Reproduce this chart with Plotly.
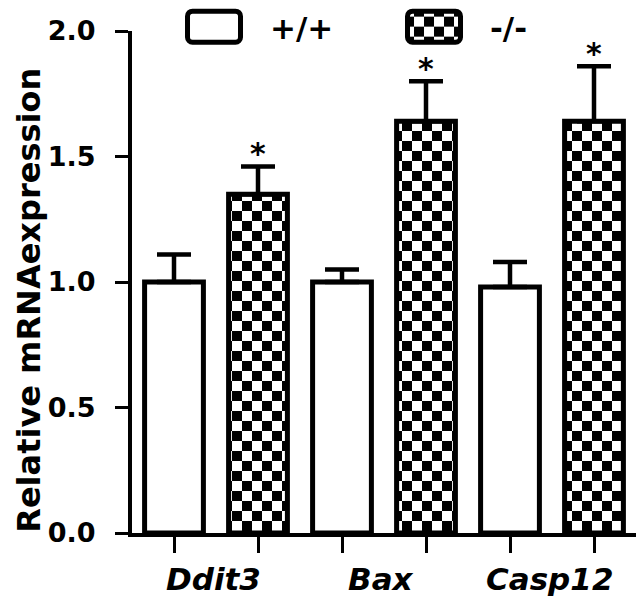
import plotly.graph_objects as go

# ---- data ----
genes = ["Ddit3", "Bax", "Casp12"]
groups = ["+/+", "-/-"]
wt_values = [1.00, 1.00, 0.98]
wt_errors = [0.11, 0.05, 0.10]
ko_values = [1.35, 1.64, 1.64]
ko_errors = [0.11, 0.16, 0.22]
y_ticks = [0.0, 0.5, 1.0, 1.5, 2.0]

FONT = "DejaVu Sans"
n = len(genes)
wt_x = [2 * i for i in range(n)]
ko_x = [2 * i + 1 for i in range(n)]

fig = go.Figure()
fig.add_trace(go.Bar(
    x=wt_x, y=wt_values, name=groups[0], width=0.70,
    marker=dict(color="white", line=dict(color="black", width=5)),
    error_y=dict(type="data", symmetric=False, array=wt_errors,
                 arrayminus=[0] * n, color="black", thickness=4.5, width=17),
))
fig.add_trace(go.Bar(
    x=ko_x, y=ko_values, name=groups[1], width=0.70,
    marker=dict(color="white", line=dict(color="black", width=5),
                pattern=dict(shape="+", fgcolor="black", bgcolor="white",
                             size=20, solidity=0.5)),
    error_y=dict(type="data", symmetric=False, array=ko_errors,
                 arrayminus=[0] * n, color="black", thickness=4.5, width=17),
))

annotations = []
for xi, v, e in zip(ko_x, ko_values, ko_errors):
    annotations.append(dict(x=xi, y=v + e, xref="x", yref="y", text="*",
                            showarrow=False, yanchor="middle", yshift=13,
                            font=dict(family=FONT, size=30, color="black", weight="bold")))
for i, g in enumerate(genes):
    annotations.append(dict(x=2 * i + 0.5, y=0, xref="x", yref="y", text=g,
                            showarrow=False, yanchor="top", yshift=-26, xshift=-3,
                            font=dict(family=FONT, size=31, color="black",
                                      weight="bold", style="italic")))
annotations.append(dict(x=-0.205, y=0.464, xref="paper", yref="paper",
                        text="Relative mRNAexpression", textangle=-90,
                        showarrow=False, xanchor="center", yanchor="middle",
                        font=dict(family=FONT, size=32, color="black", weight="bold")))

fig.update_layout(
    width=636, height=606,
    margin=dict(l=132, r=0, t=31, b=73),
    plot_bgcolor="white", paper_bgcolor="white",
    barmode="overlay",
    showlegend=True,
    legend=dict(orientation="h", x=0.0516, xanchor="left", y=1.008, yanchor="middle",
                itemwidth=102, entrywidth=103, entrywidthmode="pixels",
                font=dict(family=FONT, size=31, color="black", weight="bold"),
                bgcolor="rgba(0,0,0,0)"),
    annotations=annotations,
    xaxis=dict(range=[-0.5, 5.5], tickvals=list(range(2 * n)),
               ticktext=[""] * (2 * n), showticklabels=False,
               ticks="outside", ticklen=16, tickwidth=3, tickcolor="black",
               showline=True, linewidth=4, linecolor="black",
               showgrid=False, zeroline=False),
    yaxis=dict(range=[0, 2.0], tickvals=y_ticks, tickformat=".1f",
               ticks="outside", ticklen=13, tickwidth=3, tickcolor="black",
               ticklabelstandoff=14,
               showline=True, linewidth=4, linecolor="black",
               showgrid=False, zeroline=False,
               tickfont=dict(family=FONT, size=27, color="black", weight="bold")),
)

post_js = r"""
(function(){
var gd = document.getElementById('{plot_id}');
var NS = 'http://www.w3.org/2000/svg';
var S = 10;
function fix(){
  gd.querySelectorAll('pattern').forEach(function(p){
    if (p.getAttribute('data-checker')) return;
    p.setAttribute('data-checker', '1');
    p.setAttribute('width', 2*S); p.setAttribute('height', 2*S);
    p.setAttribute('patternUnits', 'userSpaceOnUse');
    p.removeAttribute('patternTransform');
    while (p.firstChild) p.removeChild(p.firstChild);
    function r(x, y, w, c){
      var e = document.createElementNS(NS, 'rect');
      e.setAttribute('x', x); e.setAttribute('y', y);
      e.setAttribute('width', w); e.setAttribute('height', w);
      e.setAttribute('fill', c); p.appendChild(e);
    }
    r(0, 0, 2*S, '#ffffff'); r(0, 0, S, '#000000'); r(S, S, S, '#000000');
  });
  gd.querySelectorAll('.legend .legendpoints path').forEach(function(pth){
    pth.setAttribute('d', 'M-21.5,-15.5H21.5A5,5 0 0 1 26.5,-10.5V10.5A5,5 0 0 1 21.5,15.5H-21.5A5,5 0 0 1 -26.5,10.5V-10.5A5,5 0 0 1 -21.5,-15.5Z');
    pth.style.strokeWidth = '5px';
    pth.style.stroke = '#000000';
  });
}
fix();
gd.on('plotly_afterplot', fix);
})();
"""

fig.write_html("out.html", post_script=post_js)
